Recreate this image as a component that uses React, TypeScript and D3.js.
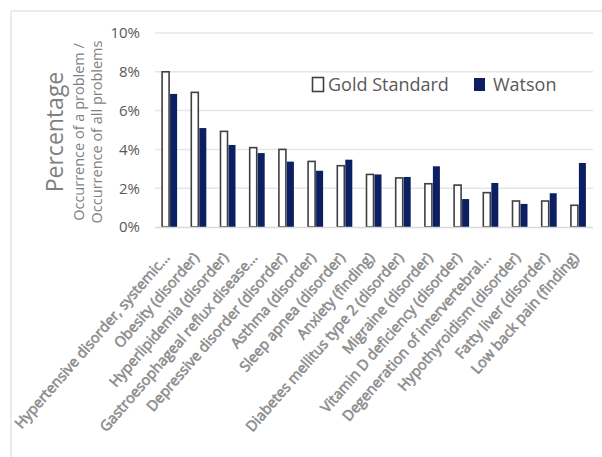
import * as d3 from 'd3';
import React, { useEffect, useRef } from 'react';

const categories = [
  'Hypertensive disorder, systemic...',
  'Obesity (disorder)',
  'Hyperlipidemia (disorder)',
  'Gastroesophageal reflux disease...',
  'Depressive disorder (disorder)',
  'Asthma (disorder)',
  'Sleep apnea (disorder)',
  'Anxiety (finding)',
  'Diabetes mellitus type 2 (disorder)',
  'Migraine (disorder)',
  'Vitamin D deficiency (disorder)',
  'Degeneration of intervertebral...',
  'Hypothyroidism (disorder)',
  'Fatty liver (disorder)',
  'Low back pain (finding)',
];

const goldStandard = [8.0, 6.94, 4.93, 4.09, 4.0, 3.38, 3.16, 2.71, 2.53, 2.23, 2.16, 1.77, 1.34, 1.34, 1.12];
const watson = [6.86, 5.1, 4.23, 3.81, 3.37, 2.9, 3.47, 2.71, 2.58, 3.13, 1.44, 2.27, 1.19, 1.74, 3.3];
const yTicks = [0, 2, 4, 6, 8, 10];
const seriesNames = ['Gold Standard', 'Watson'];

const W = 602;
const H = 457;
const margin = { left: 155, right: 9, top: 33, bottom: 230 };
const font = '"Open Sans", "Noto Sans", sans-serif';

export default function App() {
  const ref = useRef<SVGSVGElement>(null);

  useEffect(() => {
    drawChart();
  }, []);

  function drawChart() {
    const svg = d3.select(ref.current);
    svg.selectAll('*').remove();

    const x = d3
      .scaleBand()
      .domain(categories)
      .range([margin.left, W - margin.right])
      .paddingInner(0)
      .paddingOuter(0);
    const y = d3.scaleLinear().domain([0, 10]).range([H - margin.bottom, margin.top]);

    // frame edges
    svg.append('line').attr('x1', 11).attr('x2', 11).attr('y1', 11).attr('y2', H)
      .attr('stroke', '#e4e4e4').attr('stroke-width', 1.5);
    svg.append('line').attr('x1', 11).attr('x2', W).attr('y1', 11).attr('y2', 11)
      .attr('stroke', '#e4e4e4').attr('stroke-width', 1.5);

    // gridlines
    svg.append('g')
      .selectAll('line')
      .data(yTicks.filter((t) => t > 0))
      .join('line')
      .attr('x1', margin.left)
      .attr('x2', W - margin.right)
      .attr('y1', (d) => y(d))
      .attr('y2', (d) => y(d))
      .attr('stroke', '#e6e6e6')
      .attr('stroke-width', 1.5);

    // y tick labels
    svg.append('g')
      .selectAll('text')
      .data(yTicks)
      .join('text')
      .attr('x', 140)
      .attr('y', (d) => y(d))
      .attr('dy', '0.36em')
      .attr('text-anchor', 'end')
      .attr('font-family', font)
      .attr('font-size', 15)
      .attr('fill', '#595959')
      .text((d) => `${d}%`);

    const bw = 7;
    const groups = svg.append('g')
      .selectAll('g')
      .data(categories)
      .join('g')
      .attr('transform', (d) => `translate(${(x(d) as number) + x.bandwidth() / 2},0)`);

    groups.append('rect')
      .attr('x', -bw - 0.5)
      .attr('y', (_, i) => y(goldStandard[i]))
      .attr('width', bw)
      .attr('height', (_, i) => y(0) - y(goldStandard[i]))
      .attr('fill', '#ffffff')
      .attr('stroke', '#404040')
      .attr('stroke-width', 1.6);

    groups.append('rect')
      .attr('x', 0.5)
      .attr('y', (_, i) => y(watson[i]))
      .attr('width', bw)
      .attr('height', (_, i) => y(0) - y(watson[i]))
      .attr('fill', '#0d1f63');

    // baseline
    svg.append('line')
      .attr('x1', margin.left)
      .attr('x2', W - margin.right)
      .attr('y1', y(0) + 0.5)
      .attr('y2', y(0) + 0.5)
      .attr('stroke', '#d9d9d9')
      .attr('stroke-width', 1.5);

    // x labels
    svg.append('g')
      .selectAll('text')
      .data(categories)
      .join('text')
      .attr('transform', (d) => `translate(${(x(d) as number) + x.bandwidth() / 2 + 1},${y(0) + 31}) rotate(-49)`)
      .attr('text-anchor', 'end')
      .attr('font-family', font)
      .attr('font-size', 14.5)
      .attr('fill', '#959595')
      .attr('stroke', '#8a8a8a')
      .attr('stroke-width', 0.6)
      .text((d) => d);

    // y axis titles
    svg.append('text')
      .attr('transform', `translate(63,132) rotate(-90)`)
      .attr('text-anchor', 'middle')
      .attr('font-family', font)
      .attr('font-size', 23)
      .attr('fill', '#7f7f7f')
      .text('Percentage');
    svg.append('text')
      .attr('transform', `translate(84,132) rotate(-90)`)
      .attr('text-anchor', 'middle')
      .attr('font-family', font)
      .attr('font-size', 14.5)
      .attr('fill', '#7f7f7f')
      .text('Occurrence of a problem /');
    svg.append('text')
      .attr('transform', `translate(102,132) rotate(-90)`)
      .attr('text-anchor', 'middle')
      .attr('font-family', font)
      .attr('font-size', 14.5)
      .attr('fill', '#7f7f7f')
      .text('Occurrence of all problems');

    // legend
    const legend = svg.append('g').attr('transform', 'translate(312,77)');
    legend.append('rect').attr('x', 0.5).attr('y', 0.5).attr('width', 11).attr('height', 14)
      .attr('fill', '#fff').attr('stroke', '#404040').attr('stroke-width', 1.6);
    legend.append('text').attr('x', 16).attr('y', 8).attr('dy', '0.36em')
      .attr('font-family', font).attr('font-size', 18).attr('fill', '#595959')
      .text(seriesNames[0]);
    legend.append('rect').attr('x', 162).attr('y', 1).attr('width', 11).attr('height', 13)
      .attr('fill', '#0d1f63');
    legend.append('text').attr('x', 181).attr('y', 8).attr('dy', '0.36em')
      .attr('font-family', font).attr('font-size', 18).attr('fill', '#595959')
      .text(seriesNames[1]);
  }

  return <svg ref={ref} width={W} height={H} style={{ display: 'block', position: 'absolute', left: 0, top: 0, background: '#fff' }} />;
}
